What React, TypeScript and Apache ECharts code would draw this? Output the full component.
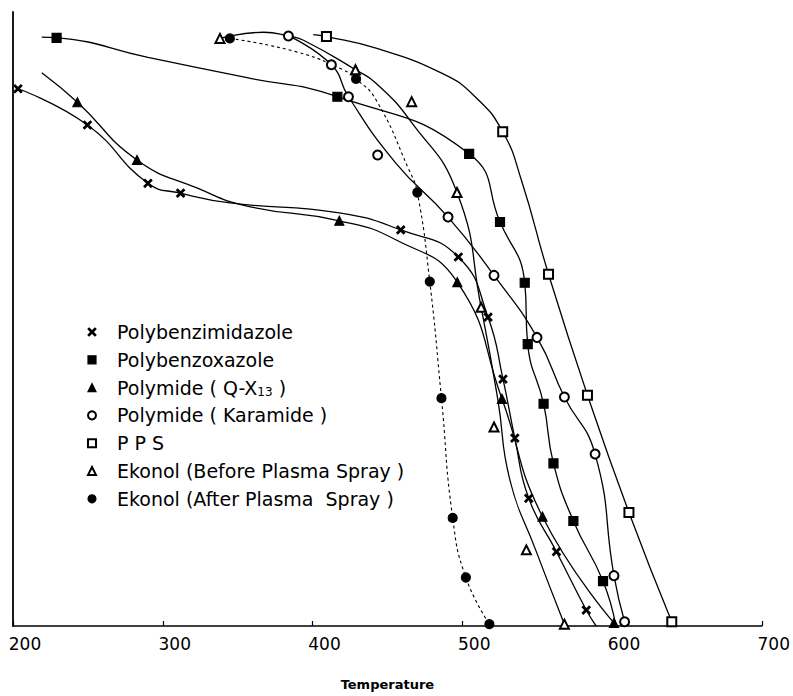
import React, { useEffect, useRef } from 'react';
import * as echarts from 'echarts';

// ---------- data (temperature, relative value) ----------
// Polybenzimidazole (x)
const pbiT = [203.3, 249.7, 290.1, 311.9, 345.0, 417.9, 458.9, 497.4, 517.2, 527.2, 535.1, 544.4, 562.9, 582.8, 589.4];
const pbiY = [87.5, 81.6, 72.1, 70.5, 68.9, 67.3, 64.5, 60.1, 50.3, 40.2, 30.6, 20.8, 12.1, 2.6, 0];
const pbiMeasured = [1, 1, 1, 1, 0, 0, 1, 1, 1, 1, 1, 1, 1, 1, 0];

// Polybenzoxazole (filled square)
const pboT = [219.2, 229.1, 290.1, 356.3, 416.6, 504.6, 525.2, 541.7, 543.7, 554.3, 560.9, 574.2, 594.0, 602.6];
const pboY = [95.9, 95.8, 92.6, 89.3, 86.2, 76.9, 65.8, 55.9, 45.9, 36.2, 26.5, 17.1, 7.3, 0];
const pboMeasured = [0, 1, 0, 0, 1, 1, 1, 1, 1, 1, 1, 1, 1, 0];

// Polymide (Q-X13) (filled triangle)
const qxT = [219.2, 243.0, 282.8, 323.2, 356.3, 417.9, 455.6, 496.7, 526.5, 553.6, 601.3];
const qxY = [90.1, 85.3, 75.9, 71.3, 68.4, 66.0, 62.9, 56.0, 37.0, 17.8, 0.5];
const qxMeasured = [0, 1, 1, 0, 0, 1, 0, 1, 1, 1, 1];

// Polymide (Karamide) (open circle)
const karT = [383.9, 412.6, 424.0, 455.6, 490.5, 521.2, 549.9, 568.2, 588.7, 601.3, 608.4];
const karY = [96.1, 91.4, 86.2, 75.4, 66.6, 57.1, 47.0, 37.3, 28.0, 8.2, 0.7];
const karMeasured = [1, 1, 1, 0, 1, 1, 1, 1, 1, 1, 1];
const karExtraT = [443.5];
const karExtraY = [76.7];

// PPS (open square)
const ppsT = [400.5, 409.3, 442.4, 486.6, 508.6, 527.0, 539.5, 557.6, 583.6, 611.3, 639.9];
const ppsY = [96.3, 96.0, 94.1, 90.0, 86.2, 80.5, 72.6, 57.3, 37.6, 18.5, 0.7];
const ppsMeasured = [0, 1, 0, 0, 0, 1, 0, 1, 1, 1, 1];

// Ekonol before plasma spray (open triangle)
const ekbT = [338.2, 367.4, 383.9, 394.0, 428.7, 442.4, 465.6, 496.5, 512.6, 523.8, 531.8, 549.0, 568.2];
const ekbY = [95.7, 96.7, 96.1, 95.4, 90.6, 88.4, 82.2, 70.6, 51.9, 36.8, 23.8, 12.4, 0.3];
const ekbMeasured = [1, 0, 0, 0, 1, 0, 0, 1, 1, 0, 0, 0, 1];
const ekbExtraT = [466.2, 521.2, 542.8];
const ekbExtraY = [85.4, 32.4, 12.4];

// Ekonol after plasma spray (filled circle, dotted)
const ekaT = [344.8, 389.4, 420.3, 429.1, 442.4, 464.4, 470.0, 478.3, 486.1, 493.6, 502.4, 518.1];
const ekaY = [95.7, 93.5, 90.6, 89.1, 85.7, 74.3, 70.6, 56.1, 37.1, 17.6, 7.9, 0.3];
const ekaMeasured = [1, 0, 0, 1, 0, 0, 1, 1, 1, 1, 1, 1];

const xTicks = [200, 300, 400, 500, 600, 700];

const names = [
  'Polybenzimidazole',
  'Polybenzoxazole',
  'Polymide ( Q-X13 )',
  'Polymide ( Karamide )',
  'P P S',
  'Ekonol (Before Plasma Spray )',
  'Ekonol (After Plasma  Spray )',
];

const CROSS = 'path://M0,1.4L1.4,0L5,3.6L8.6,0L10,1.4L6.4,5L10,8.6L8.6,10L5,6.4L1.4,10L0,8.6L3.6,5Z';
const FONT = '"DejaVu Sans", sans-serif';

function build(T: number[], Y: number[], M: number[]) {
  return T.map((t, i) => (M[i] ? [t, Y[i]] : { value: [t, Y[i]], symbol: 'none' }));
}
function pairs(T: number[], Y: number[]) {
  return T.map((t, i) => [t, Y[i]]);
}

function lineSeries(name: string, data: any[], symbol: string, size: number, dashed = false) {
  return {
    type: 'line',
    name,
    data,
    smooth: 0.5,
    symbol,
    symbolSize: size,
    showAllSymbol: true,
    lineStyle: { color: '#000', width: dashed ? 1.1 : 1.3, type: dashed ? [3, 3] : 'solid' },
    itemStyle: { color: '#000', borderColor: '#000', borderWidth: 1.2, opacity: 1 },
    emphasis: { disabled: true },
  };
}
function scatterSeries(name: string, data: any[], symbol: string, size: number) {
  return {
    type: 'scatter',
    name,
    data,
    symbol,
    symbolSize: size,
    itemStyle: { color: '#000', borderColor: '#000', borderWidth: 1.3, opacity: 1 },
    emphasis: { disabled: true },
  };
}

export default function App() {
  const ref = useRef<HTMLDivElement>(null);
  useEffect(() => {
    if (!ref.current) return;
    const chart = echarts.init(ref.current, null, { renderer: 'svg' });
    const option: any = {
      animation: false,
      backgroundColor: '#fff',
      grid: { left: 13, right: 24, top: 12, bottom: 70 },
      xAxis: {
        type: 'value',
        min: xTicks[0],
        max: xTicks[xTicks.length - 1],
        interval: 100,
        name: 'Temperature',
        nameLocation: 'middle',
        nameGap: 52,
        nameTextStyle: { fontFamily: FONT, fontSize: 13, fontWeight: 'bold', color: '#000' },
        axisLine: { show: true, lineStyle: { color: '#000', width: 1.6 } },
        axisTick: { show: true, inside: true, length: 5, lineStyle: { color: '#000', width: 1.2 } },
        axisLabel: {
          fontFamily: FONT,
          fontSize: 17,
          color: '#000',
          margin: 9,
          formatter: (v: number) => '{a|' + v + '}',
          rich: { a: { fontFamily: FONT, fontSize: 17, color: '#000', padding: [0, 0, 0, 24] } },
        },
        splitLine: { show: false },
      },
      yAxis: {
        type: 'value',
        min: 0,
        max: 100,
        axisLine: { show: true, lineStyle: { color: '#000', width: 1.8 } },
        axisTick: { show: false },
        axisLabel: { show: false },
        splitLine: { show: false },
      },
      legend: {
        orient: 'vertical',
        left: 82,
        top: 317,
        itemWidth: 8,
        itemHeight: 8,
        itemGap: 7.8,
        itemStyle: { borderWidth: 1.2 },
        textStyle: {
          fontFamily: FONT,
          fontSize: 19,
          color: '#000',
          lineHeight: 20,
          padding: [0, 0, 0, 16],
          rich: {
            sub: { fontFamily: FONT, fontSize: 12, color: '#000', verticalAlign: 'bottom', lineHeight: 20, padding: [6, 0, 0, 0] },
          },
        },
        selectedMode: false,
        formatter: (n: string) => (n === names[2] ? 'Polymide ( Q-X{sub|13} )' : n),
        data: [
          { name: names[0], icon: CROSS },
          { name: names[1], icon: 'rect' },
          { name: names[2], icon: 'triangle' },
          { name: names[3], icon: 'emptyCircle' },
          { name: names[4], icon: 'emptyRect' },
          { name: names[5], icon: 'emptyTriangle' },
          { name: names[6], icon: 'circle' },
        ],
      },
      series: [
        lineSeries(names[0], build(pbiT, pbiY, pbiMeasured), CROSS, 8),
        lineSeries(names[1], build(pboT, pboY, pboMeasured), 'rect', 9),
        lineSeries(names[2], build(qxT, qxY, qxMeasured), 'triangle', 9),
        lineSeries(names[3], build(karT, karY, karMeasured), 'emptyCircle', 9),
        scatterSeries(names[3], pairs(karExtraT, karExtraY), 'emptyCircle', 9),
        lineSeries(names[4], build(ppsT, ppsY, ppsMeasured), 'emptyRect', 9),
        lineSeries(names[5], build(ekbT, ekbY, ekbMeasured), 'emptyTriangle', 9),
        scatterSeries(names[5], pairs(ekbExtraT, ekbExtraY), 'emptyTriangle', 9),
        lineSeries(names[6], build(ekaT, ekaY, ekaMeasured), 'circle', 9, true),
      ],
    };
    chart.setOption(option);
    return () => chart.dispose();
  }, []);
  return (
    <div
      ref={ref}
      style={{ position: 'absolute', left: 0, top: 0, width: 793, height: 696, background: '#fff' }}
    />
  );
}
